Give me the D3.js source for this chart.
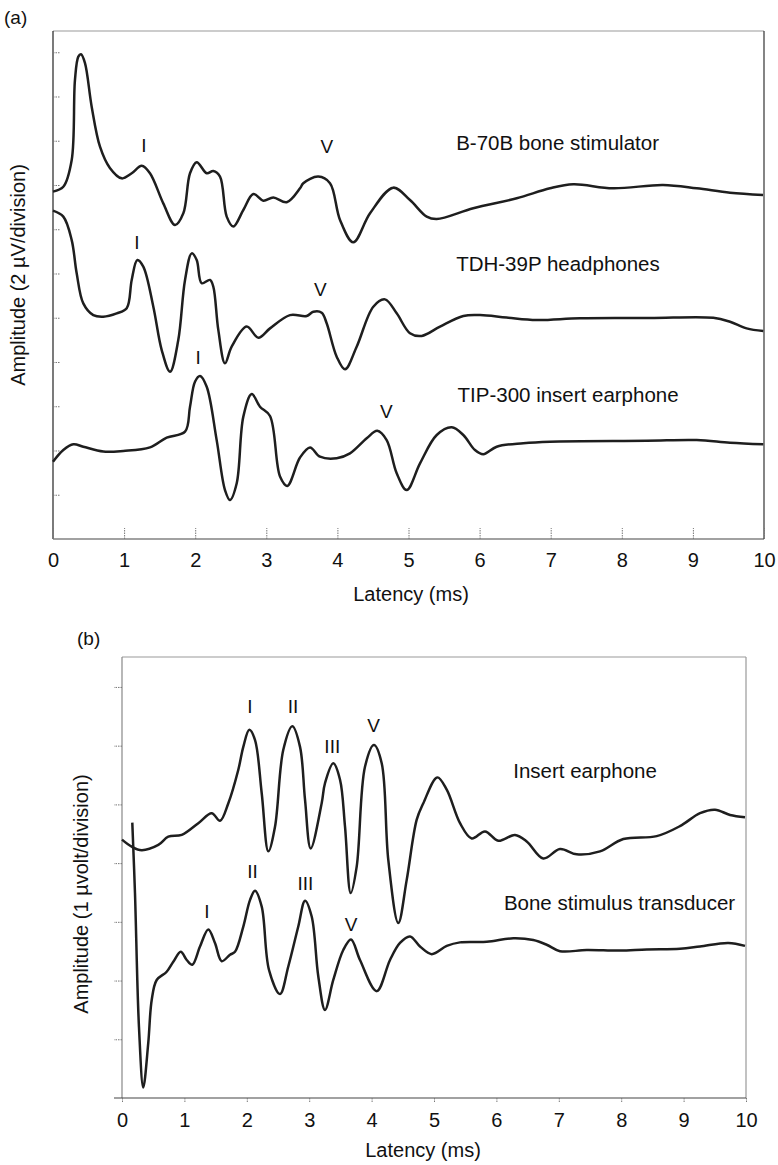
<!DOCTYPE html>
<html>
<head>
<meta charset="utf-8">
<script src="https://cdn.jsdelivr.net/npm/d3@7"></script>
<style>
  html, body { margin: 0; padding: 0; background: #fff; }
  svg { display: block; font-family: "Liberation Sans", Arial, Helvetica, sans-serif; }
</style>
</head>
<body>
<svg id="chart" width="778" height="1165"></svg>
<script>
// ---------- DATA ----------
// Panel (a): latency (ms) and amplitude (µV), 2 µV per division
const xTicks = [0, 1, 2, 3, 4, 5, 6, 7, 8, 9, 10];
const yTicksA = [2, 4, 6, 8, 10, 12, 14, 16, 18, 20, 22];
const yTicksB = [1, 2, 3, 4, 5, 6, 7];

const b70bBone = [
  [0.00,15.70],[0.145,15.92],[0.263,17.13],[0.309,20.75],[0.356,21.80],[0.394,21.91],[0.45,21.51],
  [0.544,19.54],[0.661,17.73],[0.80,16.77],[0.966,16.30],[1.107,16.53],[1.248,16.87],[1.364,16.53],
  [1.551,15.17],[1.716,14.19],[1.833,14.72],[1.927,16.53],[2.021,17.03],[2.162,16.53],[2.255,16.63],
  [2.349,16.38],[2.443,14.57],[2.536,14.12],[2.677,14.87],[2.817,15.59],[2.958,15.29],[3.098,15.44],
  [3.287,15.22],[3.474,15.85],[3.52,16.08],[3.731,16.38],[3.896,16.08],[4.037,14.42],[4.224,13.41],
  [4.459,14.72],[4.786,15.88],[5.021,15.32],[5.256,14.57],[5.397,14.46],[5.911,14.95],[6.522,15.40],
  [6.99,15.85],[7.318,16.03],[7.876,15.85],[8.58,16.00],[9.054,15.85],[9.522,15.65],[9.986,15.55]
];
const tdh39p = [
  [0.00,14.84],[0.145,14.57],[0.263,13.51],[0.333,12.01],[0.426,10.65],[0.567,10.12],[0.707,10.05],
  [0.896,10.20],[1.037,10.43],[1.107,11.71],[1.186,12.61],[1.27,12.31],[1.411,10.50],[1.529,8.54],
  [1.646,7.56],[1.762,8.99],[1.857,11.71],[1.951,12.91],[2.021,12.61],[2.091,11.56],[2.208,11.71],
  [2.255,11.40],[2.325,9.45],[2.419,7.94],[2.513,8.69],[2.724,9.60],[2.888,9.10],[3.052,9.52],
  [3.333,10.12],[3.568,10.08],[3.661,10.27],[3.779,10.23],[3.849,9.75],[3.99,8.24],[4.107,7.67],
  [4.271,8.69],[4.505,10.50],[4.669,10.83],[4.834,10.20],[5.021,9.30],[5.186,9.18],[5.443,9.60],
  [5.771,10.08],[6.006,10.12],[6.381,10.01],[6.803,9.90],[7.412,9.98],[8.397,9.99],[9.287,10.00],
  [9.522,9.82],[9.756,9.52],[9.99,9.40]
];
const tip300 = [
  [0.00,3.49],[0.145,4.02],[0.286,4.28],[0.426,4.17],[0.707,3.95],[0.989,3.98],[1.364,4.14],
  [1.599,4.58],[1.857,4.85],[1.927,5.98],[1.997,7.11],[2.068,7.37],[2.162,6.88],[2.302,4.47],
  [2.419,2.21],[2.489,1.76],[2.584,2.52],[2.677,5.53],[2.795,6.55],[2.911,5.98],[3.052,5.56],
  [3.193,2.82],[3.295,2.40],[3.474,3.68],[3.615,4.14],[3.755,3.72],[3.99,3.65],[4.177,3.87],
  [4.412,4.55],[4.561,4.89],[4.693,4.47],[4.834,2.97],[4.975,2.21],[5.162,3.42],[5.397,4.70],
  [5.608,5.05],[5.771,4.70],[5.935,4.02],[6.052,3.83],[6.24,4.17],[6.615,4.33],[6.99,4.40],
  [8.35,4.44],[9.054,4.47],[9.522,4.35],[9.99,4.28]
];

// Panel (b): latency (ms) and amplitude (µV), 1 µV per division
const insertEarphone = [
  [0.00,4.40],[0.155,4.28],[0.316,4.22],[0.582,4.31],[0.742,4.45],[0.957,4.48],[1.223,4.68],
  [1.438,4.85],[1.571,4.72],[1.704,5.02],[1.864,5.59],[1.944,5.98],[2.04,6.27],[2.131,6.10],
  [2.239,5.19],[2.345,4.20],[2.452,4.62],[2.585,5.93],[2.729,6.33],[2.853,5.98],[2.933,5.08],
  [3.024,4.25],[3.20,5.02],[3.253,5.36],[3.386,5.70],[3.494,5.42],[3.574,4.62],[3.665,3.49],
  [3.761,3.94],[3.894,5.64],[4.038,6.01],[4.162,5.70],[4.268,4.05],[4.428,2.98],[4.562,3.71],
  [4.723,4.74],[4.829,5.02],[5.053,5.46],[5.204,5.25],[5.417,4.68],[5.604,4.42],[5.817,4.54],
  [6.03,4.38],[6.298,4.48],[6.486,4.37],[6.752,4.08],[7.019,4.24],[7.287,4.15],[7.66,4.20],
  [8.034,4.41],[8.569,4.46],[8.942,4.63],[9.263,4.85],[9.503,4.91],[9.744,4.82],[9.984,4.78]
];
const boneTransducer = [
  [0.165,4.69],[0.208,3.49],[0.272,1.21],[0.341,0.18],[0.421,0.94],[0.476,1.67],[0.556,2.01],
  [0.716,2.15],[0.822,2.32],[0.941,2.49],[1.037,2.35],[1.127,2.27],[1.25,2.58],[1.383,2.87],
  [1.49,2.64],[1.598,2.33],[1.731,2.44],[1.811,2.49],[1.944,2.92],[2.051,3.37],[2.131,3.53],
  [2.239,3.26],[2.356,2.18],[2.532,1.77],[2.665,2.24],[2.825,2.92],[2.933,3.36],[3.04,3.09],
  [3.146,2.07],[3.253,1.50],[3.386,2.01],[3.546,2.52],[3.67,2.70],[3.814,2.35],[4.082,1.82],
  [4.295,2.35],[4.455,2.64],[4.615,2.75],[4.776,2.58],[4.963,2.45],[5.204,2.59],[5.417,2.65],
  [5.845,2.66],[6.271,2.72],[6.591,2.69],[6.806,2.61],[7.019,2.50],[7.447,2.52],[7.981,2.51],
  [8.409,2.53],[8.942,2.54],[9.263,2.58],[9.716,2.64],[9.984,2.59]
];

// trace names and wave labels: [text, latency(ms), amplitude(µV)]
const traceNamesA = [["B-70B bone stimulator", 5.67, 17.6], ["TDH-39P headphones", 5.67, 12.1], ["TIP-300 insert earphone", 5.69, 6.2]];
const waveLabelsA = [
  ["I", 1.28, 17.5], ["V", 3.85, 17.45],
  ["I", 1.18, 13.1], ["V", 3.76, 11.0],
  ["I", 2.04, 7.9], ["V", 4.69, 5.47]
];
const traceNamesB = [["Insert earphone", 6.27, 5.45], ["Bone stimulus transducer", 6.12, 3.2]];
const waveLabelsB = [
  ["I", 2.05, 6.56], ["II", 2.74, 6.56], ["III", 3.37, 5.87], ["V", 4.03, 6.23],
  ["II", 2.09, 3.75], ["III", 2.94, 3.54], ["I", 1.36, 3.07], ["V", 3.67, 2.85]
];

// ---------- DRAW ----------
const svg = d3.select("#chart");
const lineColor = "#1e1e1e";

function panel(cfg) {
  const x = d3.scaleLinear().domain([0, 10]).range([cfg.left, cfg.right]);
  const y = d3.scaleLinear().domain(cfg.yDomain).range([cfg.bottom, cfg.top]);
  const g = svg.append("g");

  // frame
  g.append("line").attr("x1", cfg.left).attr("x2", cfg.right).attr("y1", cfg.top).attr("y2", cfg.top)
    .attr("stroke", cfg.topColor).attr("stroke-width", 1);
  g.append("line").attr("x1", cfg.right).attr("x2", cfg.right).attr("y1", cfg.top).attr("y2", cfg.bottom)
    .attr("stroke", cfg.rightColor).attr("stroke-width", 1.2);

  // left axis
  const ya = d3.axisLeft(y).tickValues(cfg.yTicks).tickFormat("").tickSize(cfg.yTickSize).tickSizeOuter(0);
  const gy = g.append("g").attr("transform", `translate(${cfg.left},0)`).call(ya);
  gy.select(".domain").attr("stroke", cfg.leftColor).attr("stroke-width", 1.2)
    .attr("d", `M0,${cfg.top}V${cfg.bottom}`);
  gy.selectAll(".tick line").attr("stroke", "#777").attr("stroke-dasharray", "1.5,1");

  // bottom axis
  const xa = d3.axisBottom(x).tickValues(xTicks).tickFormat(d3.format("d"))
    .tickSize(cfg.xTickSize).tickSizeOuter(0).tickPadding(cfg.xPad);
  const gx = g.append("g").attr("transform", `translate(0,${cfg.bottom})`).call(xa);
  gx.select(".domain").attr("stroke", "#444").attr("stroke-width", 1.2)
    .attr("d", `M${cfg.axisStart},0H${cfg.right}`);
  gx.selectAll(".tick line").attr("stroke", "#777").attr("stroke-dasharray", "1.5,1");
  gx.selectAll(".tick text").attr("font-size", 20).attr("fill", "#111")
    .attr("font-family", '"Liberation Sans", Arial, sans-serif');

  // axis titles
  g.append("text").attr("x", cfg.xTitleX).attr("y", cfg.xTitleY).attr("text-anchor", "middle")
    .attr("font-size", 20).attr("fill", "#111").text("Latency (ms)");
  g.append("text").attr("transform", `translate(${cfg.yTitleX},${cfg.yTitleY}) rotate(-90)`)
    .attr("text-anchor", "middle").attr("font-size", 20).attr("fill", "#111").text(cfg.yTitle);

  // panel tag
  g.append("text").attr("x", cfg.tagX).attr("y", cfg.tagY).attr("font-size", 19).attr("fill", "#111").text(cfg.tag);

  // traces
  const line = d3.line().x(d => x(d[0])).y(d => y(d[1])).curve(d3.curveCatmullRom.alpha(0.5));
  cfg.series.forEach(s => {
    g.append("path").datum(s).attr("d", line).attr("fill", "none")
      .attr("stroke", lineColor).attr("stroke-width", 2.5).attr("stroke-linejoin", "round");
  });

  cfg.names.forEach(n => {
    g.append("text").attr("x", x(n[1])).attr("y", y(n[2])).attr("font-size", 20.5).attr("fill", "#111").text(n[0]);
  });
  cfg.waves.forEach(w => {
    g.append("text").attr("x", x(w[1])).attr("y", y(w[2])).attr("text-anchor", "middle")
      .attr("font-size", 19).attr("fill", "#111").text(w[0]);
  });
}

panel({
  left: 53, right: 764, top: 31, bottom: 539, yDomain: [0, 22.96], yTicks: yTicksA,
  yTickSize: -7, xTickSize: -11, xPad: 14, axisStart: 53,
  topColor: "#999", rightColor: "#333", leftColor: "#222",
  xTitleX: 411, xTitleY: 601, yTitleX: 25, yTitleY: 275, yTitle: "Amplitude (2 µV/division)",
  tag: "(a)", tagX: 4, tagY: 24,
  series: [b70bBone, tdh39p, tip300], names: traceNamesA, waves: waveLabelsA
});

panel({
  left: 122, right: 746, top: 657, bottom: 1098, yDomain: [0, 7.51], yTicks: yTicksB,
  yTickSize: 8, xTickSize: 5, xPad: 10, axisStart: 114,
  topColor: "#999", rightColor: "#999", leftColor: "#888",
  xTitleX: 423, xTitleY: 1157, yTitleX: 88, yTitleY: 894, yTitle: "Amplitude (1 µvolt/division)",
  tag: "(b)", tagX: 77, tagY: 645,
  series: [insertEarphone, boneTransducer], names: traceNamesB, waves: waveLabelsB
});
</script>
</body>
</html>
